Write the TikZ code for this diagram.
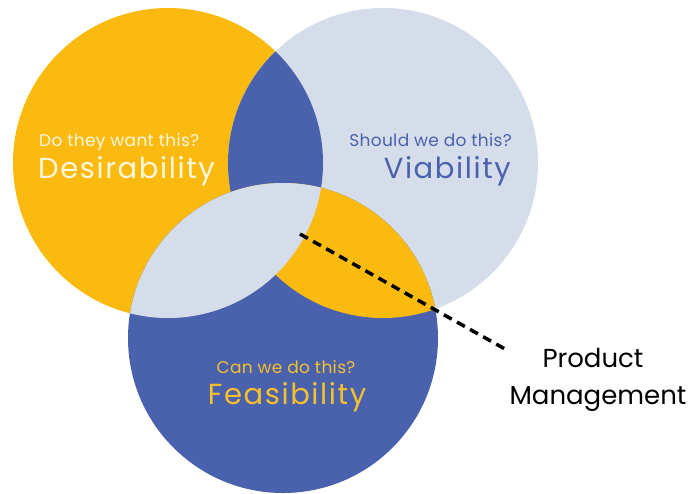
\documentclass[tikz,border=0pt]{standalone}
\usepackage{fontspec}
\setmainfont{Poppins}
\newfontfamily\bigfont[LetterSpace=5.5]{Poppins}
\newfontfamily\smallfont[LetterSpace=2]{Poppins}
\definecolor{dorange}{RGB}{250,186,16}
\definecolor{vgray}{RGB}{214,221,234}
\definecolor{fblue}{RGB}{74,98,173}
\definecolor{dtext}{RGB}{255,246,222}
\definecolor{ftext}{RGB}{246,192,44}
\begin{document}
\begin{tikzpicture}[x=1pt,y=-1pt,
  small/.style={font=\smallfont\fontsize{17}{17}\selectfont, inner sep=0pt},
  big/.style={font=\bigfont\fontsize{29}{29}\selectfont, inner sep=0pt},
  pm/.style={font=\fontsize{26}{26}\selectfont, inner sep=0pt, text=black},
  leader/.style={line width=3.5pt, dash pattern=on 9pt off 6pt}]
\useasboundingbox (0,0) rectangle (690,493);
\coordinate (cD) at (168,163);
\coordinate (cV) at (383,163);
\coordinate (cF) at (283,338);
\def\rr{155}
\fill[dorange] (cD) circle (\rr);
\fill[vgray] (cV) circle (\rr);
\fill[fblue] (cF) circle (\rr);
\begin{scope}
  \clip (cD) circle (\rr);
  \fill[fblue] (cV) circle (\rr);
\end{scope}
\begin{scope}
  \clip (cV) circle (\rr);
  \fill[dorange] (cF) circle (\rr);
\end{scope}
\begin{scope}
  \clip (cD) circle (\rr);
  \fill[vgray] (cF) circle (\rr);
\end{scope}
\node[small, text=dtext, anchor=base west] (dq) at (39,146) {Do they want this?};
\node[big, text=dtext, anchor=base west] (dn) at (38,178) {Desirability};
\node[small, text=fblue, anchor=base east] (vq) at (512,146) {Should we do this?};
\node[big, text=fblue, anchor=base east] (vn) at (511,178) {Viability};
\node[small, text=ftext, anchor=base] (fq) at (286,373) {Can we do this?};
\node[big, text=ftext, anchor=base] (fn) at (287,404) {Feasibility};
\node[pm, anchor=base] (pm1) at (593,367) {Product};
\node[pm, anchor=base] (pm2) at (598,404) {Management};
\coordinate (ls) at (300,234);
\coordinate (le) at (505,349);
\draw[leader] (ls) -- (le);
\end{tikzpicture}
\end{document}
